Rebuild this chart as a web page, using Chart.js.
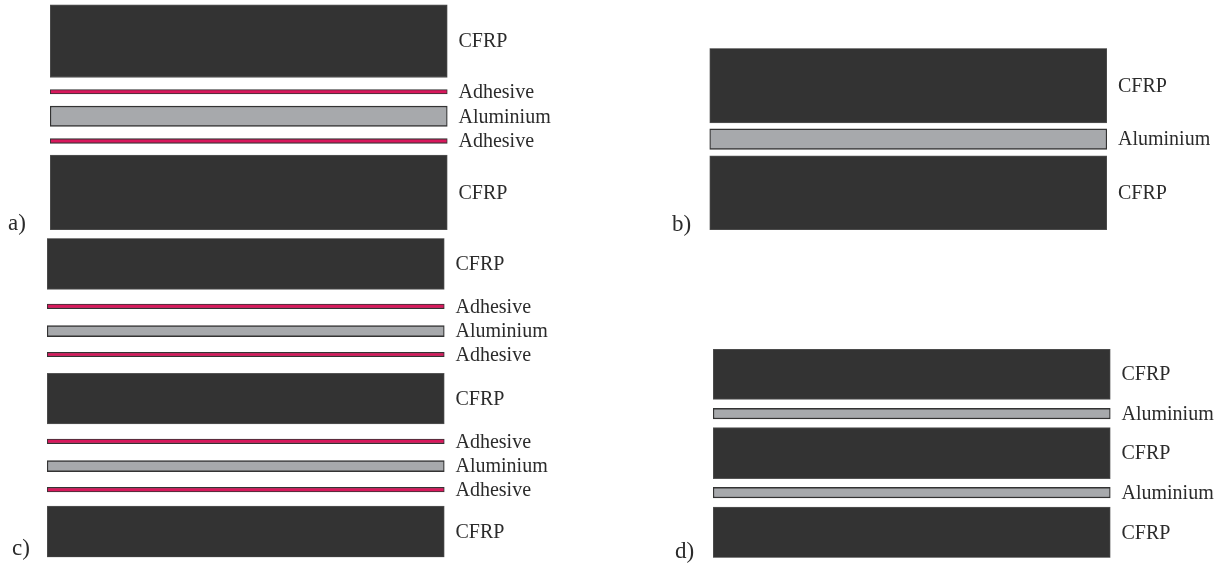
<!DOCTYPE html>
<html lang="en-US">
  <head>
    <meta charset="utf-8" />
    <title>Laminate layups</title>
    <style>
      body { margin: 0; background: #fff; }
      .wrap { position: relative; width: 1219px; height: 564px; }
      .wrap canvas { position: absolute; left: 0; top: 0; }
    </style>
  </head>
  <body>
    <div class="wrap" id="wrap"></div>

    <script src="https://cdn.jsdelivr.net/npm/chart.js@4.4.0/dist/chart.umd.min.js"></script>
    <script>
      // layer names and their extent through the thickness (top -> bottom)
      const layersA = ['CFRP', 'Adhesive', 'Aluminium', 'Adhesive', 'CFRP'];
      const depthA = [[0, 73], [85, 89.5], [101.5, 122], [134.2, 138.8], [150.5, 225.5]];

      const layersB = ['CFRP', 'Aluminium', 'CFRP'];
      const depthB = [[0, 74.5], [80.5, 101], [107.5, 181.7]];

      const layersC = ['CFRP', 'Adhesive', 'Aluminium', 'Adhesive', 'CFRP', 'Adhesive', 'Aluminium', 'Adhesive', 'CFRP'];
      const depthC = [[0, 51], [65.7, 70.4], [87.4, 98.4], [114, 118.4], [135, 185.7], [200.7, 205.4], [222.4, 233.4], [249, 253.7], [267.7, 319]];

      const layersD = ['CFRP', 'Aluminium', 'CFRP', 'Aluminium', 'CFRP'];
      const depthD = [[0, 50.3], [59.3, 70], [78.7, 129.7], [138.3, 149], [158, 208.7]];

      const panelTags = ['a)', 'b)', 'c)', 'd)'];

      const W = 1219, H = 564;
      const FONT = '20px "Liberation Serif", "DejaVu Serif", serif';

      // fill / outline per material
      const looks = {
        CFRP: { bg: '#333333', border: '#555555', bw: 1 },
        Aluminium: { bg: '#a7a9ac', border: '#333333', bw: 1.5 },
        Adhesive: { bg: '#d8185c', border: '#333333', bw: 1.2 }
      };

      // where each stack sits on the page
      const panels = [
        { names: layersA, depth: depthA, x0: 50, x1: 447.5, y0: 4.5, y1: 230, tx: 8, ty: 230 },
        { names: layersB, depth: depthB, x0: 709.5, x1: 1107, y0: 48.3, y1: 230, tx: 672, ty: 231 },
        { names: layersC, depth: depthC, x0: 47, x1: 444.5, y0: 238.3, y1: 557.3, tx: 12, ty: 555 },
        { names: layersD, depth: depthD, x0: 713, x1: 1110.5, y0: 349, y1: 557.7, tx: 675, ty: 558 }
      ];

      const labelPlugin = {
        id: 'layerLabels',
        afterDatasetsDraw(chart, args, opts) {
          const ctx = chart.ctx;
          const area = chart.chartArea;
          ctx.save();
          ctx.font = FONT;
          ctx.fillStyle = '#2b2b2b';
          ctx.textAlign = 'left';
          ctx.textBaseline = 'middle';
          chart.data.datasets.forEach((ds, i) => {
            const bar = chart.getDatasetMeta(i).data[0];
            ctx.fillText(ds.label, area.right + 11, (bar.y + bar.base) / 2 + 1);
          });
          ctx.font = '23px "Liberation Serif", "DejaVu Serif", serif';
          ctx.textBaseline = 'alphabetic';
          ctx.fillText(opts.tag, opts.tx, opts.ty);
          ctx.restore();
        }
      };

      const wrap = document.getElementById('wrap');

      panels.forEach((p, k) => {
        const canvas = document.createElement('canvas');
        canvas.width = W;
        canvas.height = H;
        canvas.style.width = W + 'px';
        canvas.style.height = H + 'px';
        wrap.appendChild(canvas);

        const total = p.depth[p.depth.length - 1][1];

        new Chart(canvas, {
          type: 'bar',
          data: {
            labels: ['stack'],
            datasets: p.names.map((name, i) => ({
              label: name,
              data: [p.depth[i]],
              backgroundColor: looks[name].bg,
              borderColor: looks[name].border,
              borderWidth: looks[name].bw,
              borderSkipped: false,
              grouped: false,
              barPercentage: 1,
              categoryPercentage: 1
            }))
          },
          options: {
            responsive: false,
            animation: false,
            events: [],
            layout: {
              padding: { left: p.x0, right: W - p.x1, top: p.y0, bottom: H - p.y1 }
            },
            scales: {
              x: { display: false },
              y: { display: false, min: 0, max: total, reverse: true }
            },
            plugins: {
              legend: { display: false },
              tooltip: { enabled: false },
              layerLabels: { tag: panelTags[k], tx: p.tx, ty: p.ty }
            }
          },
          plugins: [labelPlugin]
        });
      });
    </script>
  </body>
</html>
